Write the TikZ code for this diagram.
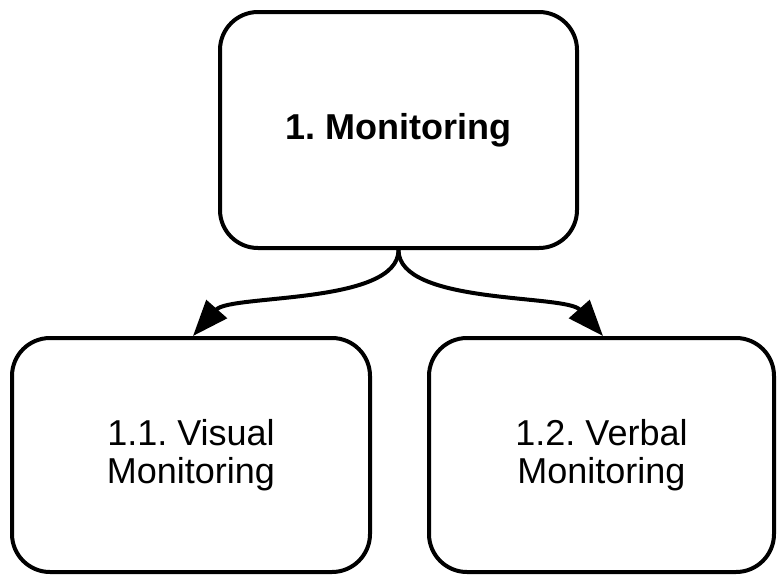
\documentclass[tikz,border=0pt]{standalone}
\usepackage{fontspec}
\setmainfont{Liberation Sans}
\usetikzlibrary{arrows.meta}
\frenchspacing
\begin{document}
\begin{tikzpicture}[x=1pt,y=-1pt,
  box/.style={draw=black, line width=4pt, rounded corners=38pt, fill=white,
    align=center, inner sep=0pt, font=\frenchspacing\fontsize{36}{38}\selectfont},
  conn/.style={line width=4pt, -{Triangle[length=36pt,width=27pt]}}]
\useasboundingbox (0,0) rectangle (777,576);
\node[box, minimum width=357pt, minimum height=236pt, font=\frenchspacing\fontsize{36}{38}\selectfont\bfseries] (top) at (398.5,130) {\raisebox{-3pt}{1. Monitoring}};
\node[box, minimum width=358pt, minimum height=234pt] (bl) at (191,455) {1.1. Visual\\Monitoring};
\node[box, minimum width=345pt, minimum height=234pt] (br) at (601.5,455) {1.2. Verbal\\Monitoring};
\draw[conn] (top.south) .. controls +(0,55) and +(37,-42) .. ([xshift=2pt]bl.north);
\draw[conn] (top.south) .. controls +(0,55) and +(-37,-42) .. ([xshift=1.5pt]br.north);
\end{tikzpicture}
\end{document}
